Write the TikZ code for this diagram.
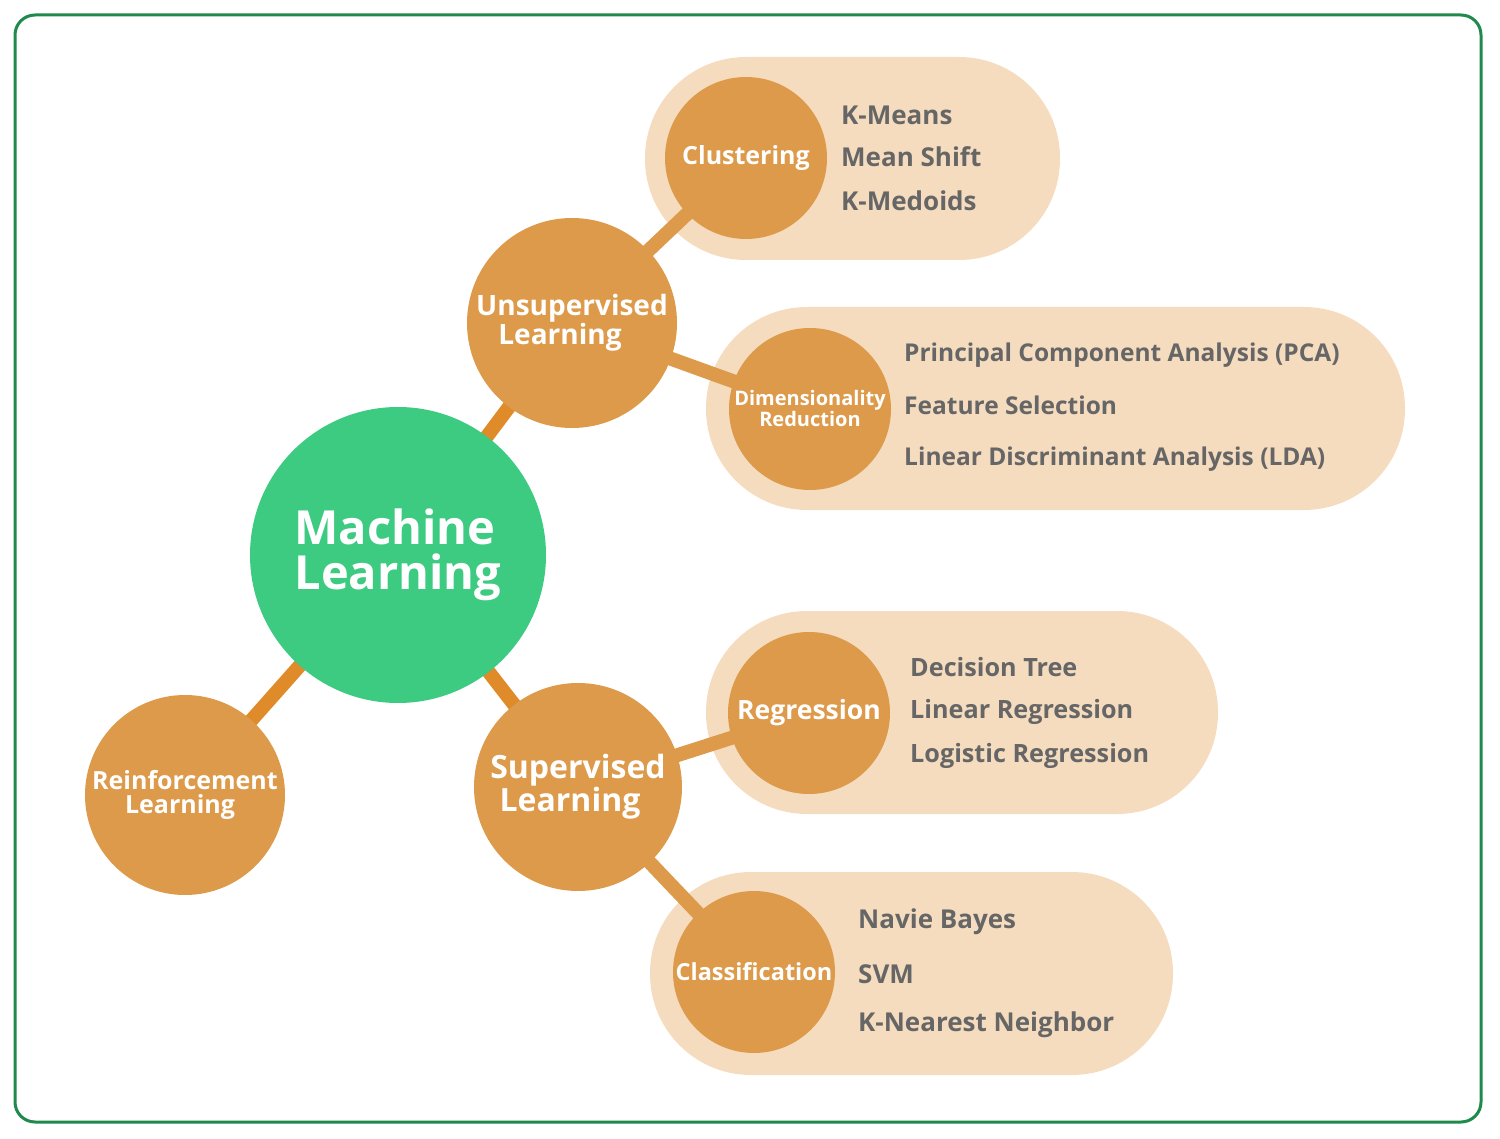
\documentclass[tikz,border=0pt]{standalone}
\usepackage{fontspec}
\setmainfont{Open Sans}
\definecolor{framec}{HTML}{1F8A4B}
\definecolor{mlc}{HTML}{3DCA81}
\definecolor{circc}{HTML}{DC9A4A}
\definecolor{linkc}{HTML}{DF8B2A}
\definecolor{pillc}{HTML}{F5DCBE}
\definecolor{itemc}{HTML}{666666}
\newcommand{\fsz}[2]{\fontsize{#1}{#2}\selectfont\bfseries}
\tikzset{
  bubble/.style={circle, fill=circc, text=white, align=center, inner sep=0pt},
  link/.style={line width=14pt, draw=linkc},
  pill/.style={fill=pillc},
  item/.style={anchor=west, text=itemc, inner sep=0pt},
}
\begin{document}
\begin{tikzpicture}[x=1pt,y=-1pt]
\useasboundingbox (0,0) rectangle (1500,1139);
\draw[framec, line width=3pt, rounded corners=20pt] (15,15) rectangle (1481,1122);
% pills
\fill[pill, rounded corners=101pt] (645,57) rectangle (1060,260);
\fill[pill, rounded corners=101pt] (706,307) rectangle (1405,510);
\fill[pill, rounded corners=101pt] (706,611) rectangle (1218,814);
\fill[pill, rounded corners=101pt] (650,872) rectangle (1173,1075);
% node positions
\coordinate (cml) at (398,555);
\coordinate (cun) at (572,323);
\coordinate (csu) at (578,787);
\coordinate (cre) at (185,795);
\coordinate (ccl) at (746,158);
\coordinate (cdr) at (810,409);
\coordinate (crg) at (809,713);
\coordinate (ccf) at (754,972);
% links
\draw[link] (cml) -- (cun);
\draw[link] (cml) -- (csu);
\draw[link] (cml) -- (cre);
\draw[link, draw=circc] (cun) -- (ccl);
\draw[link, draw=circc] (cun) -- (cdr);
\draw[link, draw=circc] (csu) -- (crg);
\draw[link, draw=circc] (csu) -- (ccf);
% circles
\node[bubble, fill=mlc, minimum size=296pt, align=left, font=\fsz{47}{45}] (ml) at (cml) {Machine\\Learning};
\node[bubble, minimum size=210pt, font=\fsz{28}{25}] (un) at (cun) {Unsupervised\\Learning\hspace*{24pt}};
\node[bubble, minimum size=208pt, font=\fsz{32}{31}] (su) at (csu) {Supervised\\Learning\hspace*{16pt}};
\node[bubble, minimum size=200pt, font=\fsz{25}{24}] (re) at (cre) {Reinforcement\\Learning\hspace*{10pt}};
\node[bubble, minimum size=162pt, font=\fsz{25}{28}] (cl) at (ccl) {Clustering};
\node[bubble, minimum size=162pt, font=\fsz{20}{19}] (dr) at (cdr) {Dimensionality\\Reduction};
\node[bubble, minimum size=162pt, font=\fsz{26.5}{28}] (rg) at (crg) {Regression};
\node[bubble, minimum size=162pt, font=\fsz{23.5}{24}] (cf) at (ccf) {Classification};
% items
\begin{scope}[every node/.append style={font=\fsz{26}{30}}]
\node[item] (i1) at (841,115) {K-Means};
\node[item] (i2) at (841,157) {Mean Shift};
\node[item] (i3) at (841,201) {K-Medoids};
\end{scope}
\begin{scope}[every node/.append style={font=\fsz{24.5}{30}}]
\node[item] (i4) at (904,355) {Principal Component Analysis (PCA)};
\node[item] (i5) at (904,405) {Feature Selection};
\node[item] (i6) at (904,459) {Linear Discriminant Analysis (LDA)};
\end{scope}
\begin{scope}[every node/.append style={font=\fsz{25.2}{30}}]
\node[item] (i7) at (910,667) {Decision Tree};
\node[item] (i8) at (910,712) {Linear Regression};
\node[item] (i9) at (910,756) {Logistic Regression};
\end{scope}
\begin{scope}[every node/.append style={font=\fsz{26}{30}}]
\node[item] (i10) at (858,922) {Navie Bayes};
\node[item] (i11) at (858,974) {SVM};
\node[item] (i12) at (858,1025) {K-Nearest Neighbor};
\end{scope}
\end{tikzpicture}
\end{document}
